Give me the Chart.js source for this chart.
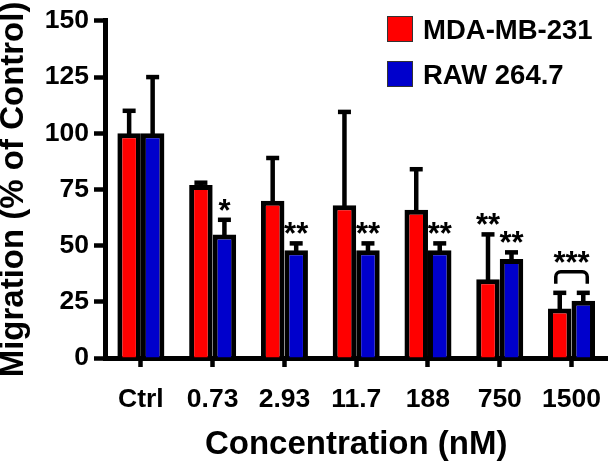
<!DOCTYPE html>
<html>
<head>
<meta charset="utf-8">
<script src="https://cdn.jsdelivr.net/npm/chart.js@4.4.0/dist/chart.umd.min.js"></script>
<style>
  html, body { margin: 0; padding: 0; background: #fff; overflow: hidden; }
  #frame { width: 614px; height: 465px; overflow: hidden; }
  #box { width: 618px; height: 465px; position: relative; }
</style>
</head>
<body>
<div id="frame"><div id="box"><canvas id="migration"></canvas></div></div>
<script>
// concentrations (nM)
const categories = ["Ctrl", "0.73", "2.93", "11.7", "188", "750", "1500"];
// MDA-MB-231 migration, % of control
const mdaValues = [100, 77, 70, 68, 66, 35, 22];
const mdaErrors = [10, 1, 19, 41.5, 18, 20, 7];
// RAW 264.7 migration, % of control
const rawValues = [100, 55, 48, 48, 48, 44, 25.5];
const rawErrors = [25, 6.5, 3, 3, 3, 3, 3.5];
// significance marks
const mdaSig = ["", "", "", "", "", "**", ""];
const rawSig = ["", "*", "**", "**", "**", "**", ""];
const pairSig = ["", "", "", "", "", "", "***"];
const yTicks = [0, 25, 50, 75, 100, 125, 150];

const FONT = "'Liberation Sans', Arial, sans-serif";

// error bars (upper only) drawn from the bar elements
const errorBars = {
  id: "errorBars",
  afterDatasetsDraw(chart) {
    const ctx = chart.ctx;
    const y = chart.scales.y;
    ctx.save();
    ctx.strokeStyle = "#000";
    ctx.fillStyle = "#000";
    ctx.lineWidth = 4.5;
    chart.data.datasets.forEach((ds, di) => {
      chart.getDatasetMeta(di).data.forEach((bar, i) => {
        const top = y.getPixelForValue(ds.data[i] + ds.errors[i]);
        ctx.beginPath();
        ctx.moveTo(bar.x, bar.y + 4);
        ctx.lineTo(bar.x, top);
        ctx.stroke();
        ctx.fillRect(bar.x - 6.5, top - 2.25, 13, 4.5);
      });
    });
    ctx.restore();
  }
};

// asterisks above bars
const sigMarks = {
  id: "sigMarks",
  afterDraw(chart) {
    const ctx = chart.ctx;
    const y = chart.scales.y;
    const sets = chart.data.datasets;
    const m0 = chart.getDatasetMeta(0).data;
    const m1 = chart.getDatasetMeta(1).data;
    const fs = 31;
    ctx.save();
    ctx.fillStyle = "#000";
    ctx.font = "bold " + fs + "px " + FONT;
    ctx.textAlign = "center";
    ctx.textBaseline = "alphabetic";
    const star = (txt, x, cy) => ctx.fillText(txt, x, cy + 0.58 * fs);
    [[mdaSig, m0, sets[0]], [rawSig, m1, sets[1]]].forEach(([sig, bars, ds]) => {
      sig.forEach((s, i) => {
        if (!s) return;
        const cap = y.getPixelForValue(ds.data[i] + ds.errors[i]);
        star(s, bars[i].x, cap - 17);
      });
    });
    pairSig.forEach((s, i) => {
      if (!s) return;
      const capA = y.getPixelForValue(sets[0].data[i] + sets[0].errors[i]);
      const capB = y.getPixelForValue(sets[1].data[i] + sets[1].errors[i]);
      const cap = Math.min(capA, capB);
      const x1 = m0[i].x - 4, x2 = m1[i].x + 4;
      const yb = cap - 9, yt = cap - 21, r = 5;
      ctx.strokeStyle = "#000";
      ctx.lineWidth = 3.5;
      ctx.beginPath();
      ctx.moveTo(x1, yb);
      ctx.arcTo(x1, yt, x2, yt, r);
      ctx.arcTo(x2, yt, x2, yb, r);
      ctx.lineTo(x2, yb);
      ctx.stroke();
      star(s, (x1 + x2) / 2, yt - 17);
    });
    ctx.restore();
  }
};

// boxed legend in the top right corner
const boxLegend = {
  id: "boxLegend",
  afterDraw(chart) {
    const ctx = chart.ctx;
    ctx.save();
    ctx.font = "bold 27.5px " + FONT;
    ctx.textBaseline = "alphabetic";
    chart.data.datasets.forEach((ds, i) => {
      const top = 16 + i * 45;
      ctx.fillStyle = ds.backgroundColor;
      ctx.fillRect(387, top, 26, 26);
      ctx.strokeStyle = "#333";
      ctx.lineWidth = 1;
      ctx.strokeRect(387.5, top + 0.5, 25, 25);
      ctx.fillStyle = "#000";
      ctx.fillText(ds.label, 423, top + 22.5);
    });
    ctx.restore();
  }
};

new Chart(document.getElementById("migration"), {
  type: "bar",
  data: {
    labels: categories,
    datasets: [
      {
        label: "MDA-MB-231",
        data: mdaValues,
        errors: mdaErrors,
        backgroundColor: "#FF0000",
        borderColor: "#000",
        borderWidth: 5,
        borderSkipped: "start"
      },
      {
        label: "RAW 264.7",
        data: rawValues,
        errors: rawErrors,
        backgroundColor: "#0000CC",
        borderColor: "#000",
        borderWidth: 5,
        borderSkipped: "start"
      }
    ]
  },
  options: {
    responsive: true,
    maintainAspectRatio: false,
    animation: false,
    categoryPercentage: 0.655,
    barPercentage: 1.0,
    layout: { padding: { top: 15, right: 0, bottom: 4, left: 0 } },
    plugins: {
      legend: { display: false },
      tooltip: { enabled: false }
    },
    scales: {
      x: {
        offset: true,
        z: 1,
        ticks: {
          color: "#000",
          font: { family: FONT, size: 26.5, weight: "bold" },
          padding: 17,
          maxRotation: 0,
          autoSkip: false
        },
        grid: {
          offset: false,
          drawOnChartArea: false,
          tickLength: 9,
          tickWidth: 4.5,
          tickColor: "#000"
        },
        border: { color: "#000", width: 5 },
        title: {
          display: true,
          text: "Concentration (nM)",
          color: "#000",
          font: { family: FONT, size: 33, weight: "bold", lineHeight: 1 },
          padding: 0
        },
        afterFit(scale) { scale.height = 103; }
      },
      y: {
        min: 0,
        max: 150,
        z: 1,
        afterBuildTicks(scale) { scale.ticks = yTicks.map(v => ({ value: v })); },
        ticks: {
          color: "#000",
          font: { family: FONT, size: 26.5, weight: "bold" },
          padding: 5
        },
        grid: {
          drawOnChartArea: false,
          tickLength: 11,
          tickWidth: 4.5,
          tickColor: "#000"
        },
        border: { color: "#000", width: 5 },
        title: {
          display: true,
          text: "Migration (% of Control)",
          color: "#000",
          font: { family: FONT, size: 33, weight: "bold", lineHeight: 0.82 },
          padding: 0
        },
        afterFit(scale) { scale.width = 105; }
      }
    }
  },
  plugins: [errorBars, sigMarks, boxLegend]
});
</script>
</body>
</html>
